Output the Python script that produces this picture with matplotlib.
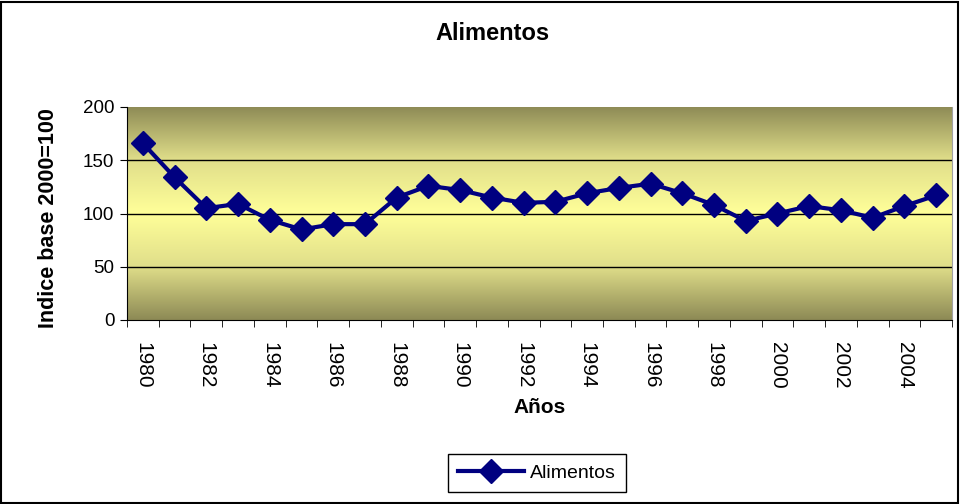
import numpy as np
import matplotlib.pyplot as plt
from matplotlib.colors import LinearSegmentedColormap

plt.rcParams['font.family'] = ['Liberation Sans', 'DejaVu Sans']

# data
years = list(range(1980, 2006))
alimentos = [166, 134, 105, 109, 94, 85, 90, 90, 115, 126, 122, 115, 110,
             111, 119, 124, 128, 119, 108, 93, 100, 107, 103, 96, 107, 117]
y_ticks = [0, 50, 100, 150, 200]

fig = plt.figure(figsize=(9.6, 5.04), dpi=100)
ax = fig.add_axes([127 / 960, 1 - 320 / 504, 825 / 960, 213 / 504])

# olive -> pale yellow -> olive background like Excel's two colour gradient
cmap = LinearSegmentedColormap.from_list(
    'excel', [(0, '#8d8a55'), (0.25, '#e0de8a'), (0.5, '#ffff99'),
              (0.75, '#e0de8a'), (1, '#8d8a55')])
grad = np.linspace(0, 1, 256).reshape(-1, 1)
n = len(years)
ax.imshow(grad, cmap=cmap, aspect='auto', extent=[-0.5, n - 0.5, 0, 200],
          origin='lower', zorder=0, interpolation='bicubic')

for v in y_ticks[1:-1]:
    ax.axhline(v, color='black', lw=1, zorder=1)

x = np.arange(n)
ax.plot(x, alimentos, color='#000080', lw=3, marker='D', markersize=12,
        label='Alimentos', zorder=3)

ax.set_xlim(-0.5, n - 0.5)
ax.set_ylim(0, 200)
ax.set_yticks(y_ticks)
ax.set_xticks(x[::2])
ax.set_xticklabels([str(y) for y in years[::2]], rotation=270, fontsize=15)
ax.set_xticks(np.arange(n + 1) - 0.5, minor=True)
ax.tick_params(axis='x', which='major', length=0, pad=16)
ax.tick_params(axis='x', which='minor', length=5, direction='out', color='black')
ax.tick_params(axis='y', labelsize=13.5, length=5, direction='out', color='black', pad=4)

ax.spines['top'].set_visible(False)
ax.spines['right'].set_color('#a0a0a0')
ax.spines['left'].set_color('black')
ax.spines['bottom'].set_color('black')

ax.set_xlabel('Años', fontsize=15, fontweight='bold')
ax.xaxis.set_label_coords(413 / 825, -78 / 213)
ax.set_ylabel('Indice base 2000=100', fontsize=15.5, fontweight='bold')
ax.yaxis.set_label_coords(-68 / 825, 102 / 213)
fig.text(492 / 960, 1 - 33 / 504, 'Alimentos', ha='center', va='center',
         fontsize=17, fontweight='bold')

leg = fig.legend(loc='center', bbox_to_anchor=(537 / 960, 1 - 473 / 504),
                 fontsize=14, fancybox=False, edgecolor='black', framealpha=1,
                 handlelength=3.4, handletextpad=0.3, borderpad=0.5)
leg.get_frame().set_linewidth(1)

# outer chart border
fig.add_artist(plt.Rectangle((0.001, 0.002), 0.997, 0.995, transform=fig.transFigure,
                             fill=False, edgecolor='black', lw=1.5))

fig.savefig('out.png', dpi=100)
